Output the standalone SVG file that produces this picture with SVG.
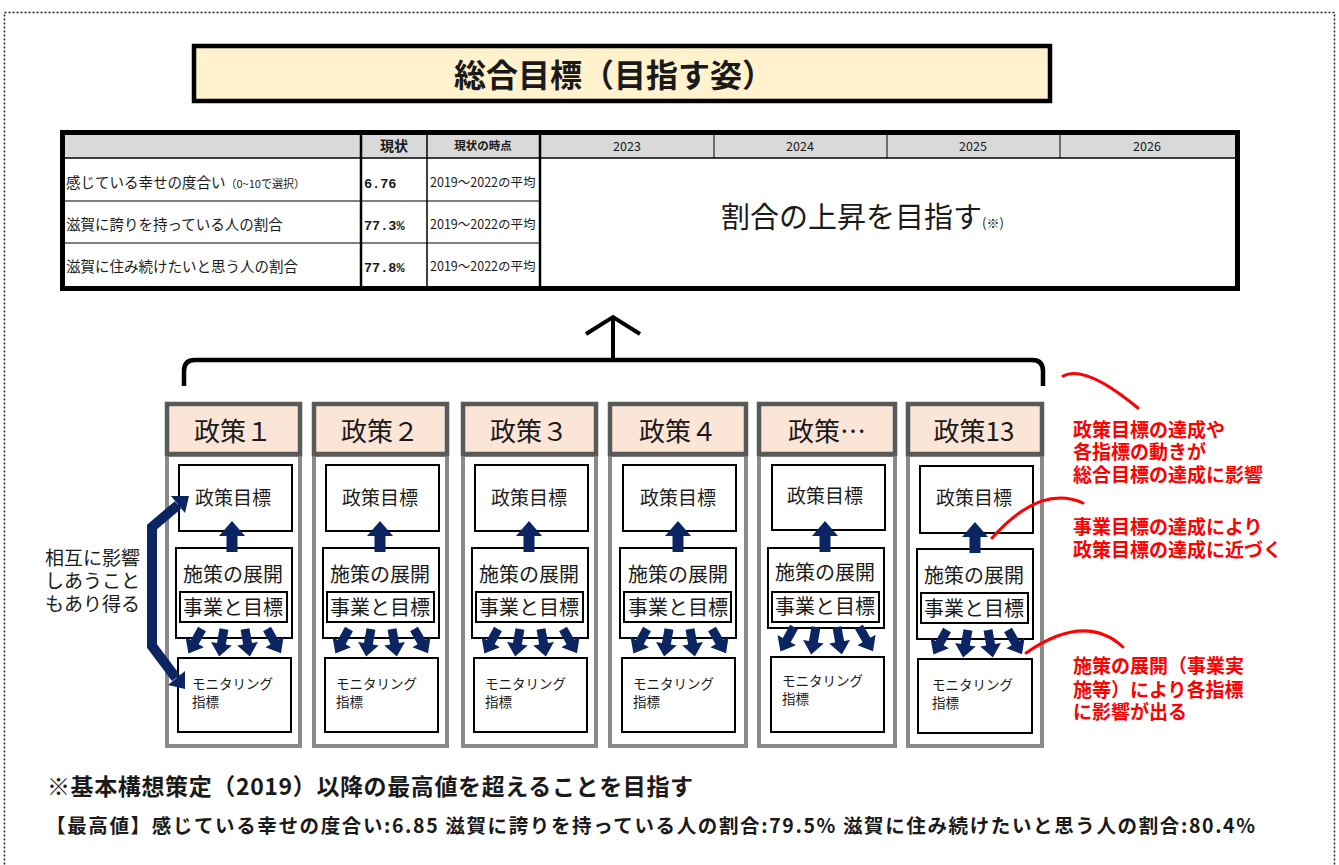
<svg xmlns="http://www.w3.org/2000/svg" width="1339" height="865" viewBox="0 0 1339 865">
<style>
.jp{font-family:"Noto Sans CJK JP","Noto Sans",sans-serif;fill:#1a1a1a}
.b{font-weight:bold}
.red{fill:#ff0000;font-weight:bold;font-size:19px}
.hdr{fill:#FBE5D6;stroke:#595959;stroke-width:4.5}
.body{fill:#fff;stroke:#8a8a8a;stroke-width:4}
.box{fill:#fff;stroke:#000;stroke-width:2}
.navy{fill:#0b2462}
.rl{fill:none;stroke:#ff0000;stroke-width:3;stroke-linecap:round}
.tl{stroke:#000;fill:none}
.mono{font-family:"Liberation Mono",monospace;font-weight:bold;font-size:13.5px;fill:#1a1a1a}
</style>
<defs>
<path id="da" d="M-4.5,0 L4.5,0 L4.5,15 L10.5,15 L0,28 L-10.5,15 L-4.5,15 Z" class="navy"/>
<path id="ua" d="M0,0 L13,15 L5.5,15 L5.5,31 L-5.5,31 L-5.5,15 L-13,15 Z" class="navy"/>
</defs>
<rect x="4.5" y="12.5" width="1330" height="900" fill="none" stroke="#222" stroke-width="1.5" stroke-dasharray="2,2"/>

<g id="title">
<rect x="194" y="46" width="856" height="55" fill="#FFF2CC" stroke="#000" stroke-width="4.5"/>
<text x="614" y="87" text-anchor="middle" class="jp b" font-size="32">総合目標（目指す姿）</text>
</g>

<g id="table">
<rect x="63" y="134" width="1172" height="24" fill="#D9D9D9"/>
<rect x="62.5" y="132.5" width="1175" height="156" fill="none" stroke="#000" stroke-width="5"/>
<line x1="63" y1="158" x2="1235" y2="158" class="tl" stroke-width="1.5"/>
<line x1="63" y1="201" x2="540" y2="201" class="tl" stroke-width="1.2"/>
<line x1="63" y1="243" x2="540" y2="243" class="tl" stroke-width="1.2"/>
<line x1="361" y1="134" x2="361" y2="287" class="tl" stroke-width="2.5"/>
<line x1="427" y1="134" x2="427" y2="287" class="tl" stroke-width="1.5"/>
<line x1="540" y1="134" x2="540" y2="287" class="tl" stroke-width="2.5"/>
<line x1="714" y1="134" x2="714" y2="158" class="tl" stroke-width="1"/>
<line x1="887" y1="134" x2="887" y2="158" class="tl" stroke-width="1"/>
<line x1="1060" y1="134" x2="1060" y2="158" class="tl" stroke-width="1"/>
<text x="394" y="151" text-anchor="middle" class="jp b" font-size="14">現状</text>
<text x="483" y="150" text-anchor="middle" class="jp b" font-size="11.5">現状の時点</text>
<text x="627" y="151" text-anchor="middle" class="jp" font-size="12.5">2023</text>
<text x="800" y="151" text-anchor="middle" class="jp" font-size="12.5">2024</text>
<text x="973" y="151" text-anchor="middle" class="jp" font-size="12.5">2025</text>
<text x="1147" y="151" text-anchor="middle" class="jp" font-size="12.5">2026</text>
<text x="66" y="188" class="jp" font-size="14.5">感じている幸せの度合い<tspan font-size="11">（0~10で選択）</tspan></text>
<text x="66" y="230" class="jp" font-size="14.5">滋賀に誇りを持っている人の割合</text>
<text x="66" y="272" class="jp" font-size="14.5">滋賀に住み続けたいと思う人の割合</text>
<text x="364" y="188" class="mono">6.76</text>
<text x="364" y="230" class="mono">77.3%</text>
<text x="364" y="272" class="mono">77.8%</text>
<text x="430" y="187" class="jp" font-size="12.5">2019～2022の平均</text>
<text x="430" y="229" class="jp" font-size="12.5">2019～2022の平均</text>
<text x="430" y="271" class="jp" font-size="12.5">2019～2022の平均</text>
<text x="721" y="228" class="jp" font-size="29">割合の上昇を目指す<tspan font-size="13">(※)</tspan></text>
</g>

<g id="policy1" transform="translate(165,0)">
<rect class="body" x="2" y="455" width="133" height="291"/>
<rect class="hdr" x="2" y="404" width="133" height="50"/>
<text x="68" y="441" text-anchor="middle" class="jp" font-size="26">政策１</text>
<rect class="box" x="14" y="465" width="113" height="66"/>
<text x="68" y="505" text-anchor="middle" class="jp" font-size="19">政策目標</text>
<rect class="box" x="11" y="548" width="116" height="90"/>
<text x="68" y="582" text-anchor="middle" class="jp" font-size="20">施策の展開</text>
<rect class="box" x="15" y="592" width="107" height="30"/>
<text x="68" y="615" text-anchor="middle" class="jp" font-size="20">事業と目標</text>
<rect class="box" x="13" y="658" width="113" height="74"/>
<text x="27" y="689" class="jp" font-size="13.5">モニタリング</text>
<text x="27" y="707" class="jp" font-size="13.5">指標</text>
<use href="#ua" x="67" y="521"/>
<use href="#da" transform="translate(37,629) rotate(29)"/>
<use href="#da" transform="translate(59,629) rotate(10)"/>
<use href="#da" transform="translate(80,629) rotate(-10)"/>
<use href="#da" transform="translate(102,629) rotate(-30)"/>
</g>

<g id="policy2" transform="translate(312,0)">
<rect class="body" x="2" y="455" width="133" height="291"/>
<rect class="hdr" x="2" y="404" width="133" height="50"/>
<text x="68" y="441" text-anchor="middle" class="jp" font-size="26">政策２</text>
<rect class="box" x="14" y="465" width="113" height="66"/>
<text x="68" y="505" text-anchor="middle" class="jp" font-size="19">政策目標</text>
<rect class="box" x="11" y="548" width="116" height="90"/>
<text x="68" y="582" text-anchor="middle" class="jp" font-size="20">施策の展開</text>
<rect class="box" x="15" y="592" width="107" height="30"/>
<text x="68" y="615" text-anchor="middle" class="jp" font-size="20">事業と目標</text>
<rect class="box" x="13" y="658" width="113" height="74"/>
<text x="24" y="689" class="jp" font-size="13.5">モニタリング</text>
<text x="24" y="707" class="jp" font-size="13.5">指標</text>
<use href="#ua" x="68" y="521"/>
<use href="#da" transform="translate(37,629) rotate(29)"/>
<use href="#da" transform="translate(59,629) rotate(10)"/>
<use href="#da" transform="translate(80,629) rotate(-10)"/>
<use href="#da" transform="translate(102,629) rotate(-30)"/>
</g>

<g id="policy3" transform="translate(461,0)">
<rect class="body" x="2" y="455" width="133" height="291"/>
<rect class="hdr" x="2" y="404" width="133" height="50"/>
<text x="68" y="441" text-anchor="middle" class="jp" font-size="26">政策３</text>
<rect class="box" x="14" y="465" width="113" height="66"/>
<text x="68" y="505" text-anchor="middle" class="jp" font-size="19">政策目標</text>
<rect class="box" x="11" y="548" width="116" height="90"/>
<text x="68" y="582" text-anchor="middle" class="jp" font-size="20">施策の展開</text>
<rect class="box" x="15" y="592" width="107" height="30"/>
<text x="68" y="615" text-anchor="middle" class="jp" font-size="20">事業と目標</text>
<rect class="box" x="13" y="658" width="113" height="74"/>
<text x="24" y="689" class="jp" font-size="13.5">モニタリング</text>
<text x="24" y="707" class="jp" font-size="13.5">指標</text>
<use href="#ua" x="68" y="521"/>
<use href="#da" transform="translate(37,629) rotate(29)"/>
<use href="#da" transform="translate(59,629) rotate(10)"/>
<use href="#da" transform="translate(80,629) rotate(-10)"/>
<use href="#da" transform="translate(102,629) rotate(-30)"/>
</g>

<g id="policy4" transform="translate(608,0)">
<rect class="body" x="2" y="455" width="136" height="291"/>
<rect class="hdr" x="2" y="404" width="136" height="50"/>
<text x="70" y="441" text-anchor="middle" class="jp" font-size="26">政策４</text>
<rect class="box" x="15" y="465" width="113" height="66"/>
<text x="70" y="505" text-anchor="middle" class="jp" font-size="19">政策目標</text>
<rect class="box" x="12" y="548" width="116" height="90"/>
<text x="70" y="582" text-anchor="middle" class="jp" font-size="20">施策の展開</text>
<rect class="box" x="16" y="592" width="107" height="30"/>
<text x="70" y="615" text-anchor="middle" class="jp" font-size="20">事業と目標</text>
<rect class="box" x="14" y="658" width="113" height="74"/>
<text x="25" y="689" class="jp" font-size="13.5">モニタリング</text>
<text x="25" y="707" class="jp" font-size="13.5">指標</text>
<use href="#ua" x="70" y="521"/>
<use href="#da" transform="translate(39,629) rotate(29)"/>
<use href="#da" transform="translate(61,629) rotate(10)"/>
<use href="#da" transform="translate(82,629) rotate(-10)"/>
<use href="#da" transform="translate(104,629) rotate(-30)"/>
</g>

<g id="policy5" transform="translate(757,0)">
<rect class="body" x="2" y="455" width="136" height="291"/>
<rect class="hdr" x="2" y="404" width="136" height="50"/>
<text x="70" y="441" text-anchor="middle" class="jp" font-size="26">政策…</text>
<rect class="box" x="15" y="465" width="113" height="65"/>
<text x="68" y="503" text-anchor="middle" class="jp" font-size="19">政策目標</text>
<rect class="box" x="11" y="548" width="116" height="80"/>
<text x="68" y="580" text-anchor="middle" class="jp" font-size="20">施策の展開</text>
<rect class="box" x="15" y="592" width="107" height="30"/>
<text x="68" y="614" text-anchor="middle" class="jp" font-size="20">事業と目標</text>
<rect class="box" x="14" y="657" width="113" height="75"/>
<text x="25" y="686" class="jp" font-size="13.5">モニタリング</text>
<text x="25" y="704" class="jp" font-size="13.5">指標</text>
<use href="#ua" x="68" y="521"/>
<use href="#da" transform="translate(37,627) rotate(29)"/>
<use href="#da" transform="translate(59,627) rotate(10)"/>
<use href="#da" transform="translate(80,627) rotate(-10)"/>
<use href="#da" transform="translate(102,627) rotate(-30)"/>
</g>

<g id="policy13" transform="translate(906,0)">
<rect class="body" x="2" y="455" width="134" height="291"/>
<rect class="hdr" x="2" y="404" width="134" height="50"/>
<text x="68" y="441" text-anchor="middle" class="jp" font-size="26">政策13</text>
<rect class="box" x="14" y="466" width="113" height="67"/>
<text x="68" y="505" text-anchor="middle" class="jp" font-size="19">政策目標</text>
<rect class="box" x="11" y="549" width="116" height="90"/>
<text x="68" y="583" text-anchor="middle" class="jp" font-size="20">施策の展開</text>
<rect class="box" x="15" y="593" width="107" height="30"/>
<text x="68" y="616" text-anchor="middle" class="jp" font-size="20">事業と目標</text>
<rect class="box" x="12" y="659" width="114" height="74"/>
<text x="26" y="690" class="jp" font-size="13.5">モニタリング</text>
<text x="26" y="708" class="jp" font-size="13.5">指標</text>
<use href="#ua" x="69" y="522"/>
<use href="#da" transform="translate(41,630) rotate(29)"/>
<use href="#da" transform="translate(62,630) rotate(10)"/>
<use href="#da" transform="translate(82,630) rotate(-10)"/>
<use href="#da" transform="translate(102,630) rotate(-30)"/>
</g>

<g id="connectors">
<path d="M184,386 L184,371 Q184,360 195,360 L1032,360 Q1043,360 1043,371 L1043,386" fill="none" stroke="#000" stroke-width="4.5"/>
<path d="M613,360 L613,318 M586,334 L613,317 L640,334" fill="none" stroke="#000" stroke-width="4"/>
<path d="M178,505 L152,527 L152,646 L176,678" fill="none" stroke="#0b2462" stroke-width="10" stroke-linejoin="miter"/>
<polygon points="189,496 185,513 171,496" class="navy"/>
<polygon points="185,689 168,685 185,671" class="navy"/>
<path class="rl" d="M1063,376 Q1085,364 1138,408"/>
<path class="rl" d="M992,538 Q1040,484 1083,503"/>
<path class="rl" d="M1026,653 Q1085,612 1123,647"/>
</g>

<g id="mutual-note">
<text class="jp" font-size="19"><tspan x="45" y="565">相互に影響</tspan><tspan x="45" y="588">しあうこと</tspan><tspan x="45" y="611">もあり得る</tspan></text>
</g>

<g id="red-notes">
<text class="jp red"><tspan x="1073" y="437">政策目標の達成や</tspan><tspan x="1073" y="459">各指標の動きが</tspan><tspan x="1073" y="482">総合目標の達成に影響</tspan></text>
<text class="jp red"><tspan x="1073" y="534">事業目標の達成により</tspan><tspan x="1073" y="557">政策目標の達成に近づく</tspan></text>
<text class="jp red"><tspan x="1073" y="673">施策の展開（事業実</tspan><tspan x="1073" y="697">施等）により各指標</tspan><tspan x="1073" y="719">に影響が出る</tspan></text>
</g>

<g id="footnote">
<text x="47" y="795" class="jp b" font-size="23" textLength="646" lengthAdjust="spacing">※基本構想策定（2019）以降の最高値を超えることを目指す</text>
<text x="46" y="833" class="jp b" font-size="19.5" textLength="1209" lengthAdjust="spacing">【最高値】感じている幸せの度合い:6.85 滋賀に誇りを持っている人の割合:79.5% 滋賀に住み続けたいと思う人の割合:80.4%</text>
</g>
</svg>
